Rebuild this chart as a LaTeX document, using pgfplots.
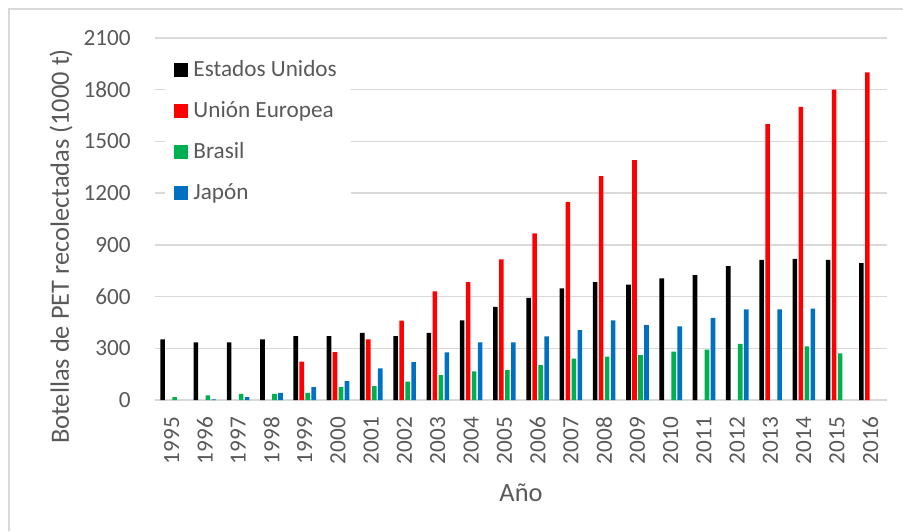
\documentclass[border=0pt]{standalone}
\usepackage{fontspec}
\setmainfont{Carlito}
\usepackage{pgfplots}
\pgfplotsset{compat=1.18}
\definecolor{txtgray}{HTML}{595959}
\definecolor{gridgray}{HTML}{D9D9D9}
\definecolor{eured}{HTML}{FF0000}
\definecolor{brgreen}{HTML}{00B050}
\definecolor{jpblue}{HTML}{0070C0}
\begin{document}
\begin{tikzpicture}
\useasboundingbox (0,0) rectangle (451.5pt,265.5pt);
% chart area frame
\draw[gridgray, line width=0.8pt] (4.5pt,0) -- (4.5pt,261pt) -- (451.5pt,261pt);
\begin{axis}[
  at={(77.5pt,65.5pt)}, anchor=south west,
  scale only axis, width=366pt, height=181pt,
  ybar, bar width=2.3pt,
  xmin=1994.5, xmax=2016.5, ymin=0, ymax=2100,
  xtick={1995,...,2016},
  xticklabels={1995,1996,1997,1998,1999,2000,2001,2002,2003,2004,2005,2006,2007,2008,2009,2010,2011,2012,2013,2014,2015,2016},
  ytick={0,300,...,2100},
  /pgf/number format/1000 sep={},
  /pgf/number format/assume math mode=true,
  axis line style={draw=none},
  tick style={draw=none},
  major tick length=0pt,
  ymajorgrids, grid style={gridgray, line width=0.65pt},
  ticklabel style={text=txtgray, font=\fontsize{11.6}{14}\selectfont},
  xticklabel style={rotate=90, anchor=east, inner sep=0pt},
  xticklabel shift=8.3pt,
  yticklabel style={anchor=east, inner sep=0pt},
  yticklabel shift=12pt,
  xlabel={Año},
  ylabel={Botellas de PET recolectadas (1000 t)},
  xlabel style={at={(axis description cs:0.5,-0.257)}, anchor=center, text=txtgray, font=\fontsize{13.2}{16}\selectfont},
  ylabel style={at={(axis description cs:-0.1284,0.424)}, anchor=center, text=txtgray, font=\fontsize{13.2}{16}\selectfont},
  legend style={at={(axis description cs:0.0137,0.975)}, anchor=north west,
    fill=white, draw=none, text=txtgray,
    font=\fontsize{11.6}{14}\selectfont,
    inner xsep=4.5pt, inner ysep=6pt, row sep=9.5pt,
    nodes={inner xsep=2.5pt, inner ysep=0pt, text height=8.5pt, text depth=2.5pt}},
  legend cell align=left,
  legend image code/.code={\fill[#1] (0pt,-3.5pt) rectangle (7pt,3.5pt);},
]
% Estados Unidos
\addplot[fill=black, draw=none, bar shift=-4.5pt] coordinates {
 (1995,352) (1996,335) (1997,335) (1998,352) (1999,371) (2000,371)
 (2001,390) (2002,370) (2003,390) (2004,462) (2005,540) (2006,592)
 (2007,648) (2008,684) (2009,669) (2010,705) (2011,724) (2012,776)
 (2013,813) (2014,819) (2015,813) (2016,794)};
% Unión Europea
\addplot[fill=eured, draw=none, bar shift=-1.5pt] coordinates {
 (1999,222) (2000,278) (2001,352) (2002,461) (2003,630) (2004,684)
 (2005,816) (2006,967) (2007,1150) (2008,1299) (2009,1392)
 (2013,1600) (2014,1700) (2015,1800) (2016,1900)};
% Brasil
\addplot[fill=brgreen, draw=none, bar shift=1.5pt] coordinates {
 (1995,16) (1996,27) (1997,35) (1998,35) (1999,42) (2000,74)
 (2001,81) (2002,106) (2003,145) (2004,166) (2005,174) (2006,203)
 (2007,240) (2008,251) (2009,261) (2010,280) (2011,292) (2012,326)
 (2014,311) (2015,271)};
% Japón
\addplot[fill=jpblue, draw=none, bar shift=4.5pt] coordinates {
 (1996,3) (1997,16) (1998,42) (1999,74) (2000,110) (2001,184)
 (2002,220) (2003,276) (2004,334) (2005,334) (2006,369) (2007,406)
 (2008,462) (2009,435) (2010,427) (2011,477) (2012,526) (2013,526)
 (2014,530)};
\legend{Estados Unidos, Unión Europea, Brasil, Japón}
\end{axis}
\end{tikzpicture}
\end{document}
